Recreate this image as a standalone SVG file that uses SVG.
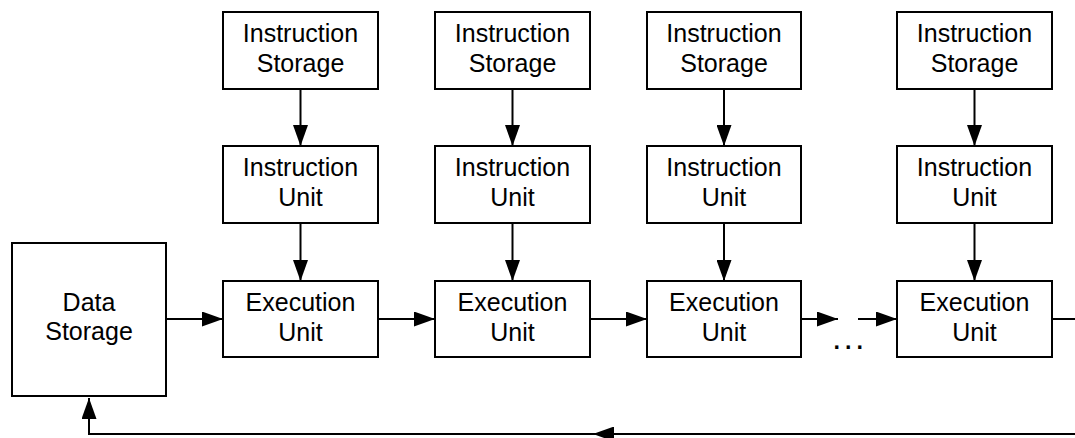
<svg xmlns="http://www.w3.org/2000/svg" width="1075" height="438" viewBox="0 0 1075 438">
  <style>
    .box { fill: #ffffff; stroke: #000000; stroke-width: 2; }
    .wire { fill: none; stroke: #000000; stroke-width: 2; }
    .lbl { font-family: "Liberation Sans", Arial, Helvetica, sans-serif; font-size: 25px; fill: #000000; text-anchor: middle; }
  </style>
  <defs>
    <marker id="arrow" markerUnits="userSpaceOnUse" markerWidth="21" markerHeight="15" refX="21" refY="7.5" orient="auto">
      <path d="M0,0 L21,7.5 L0,15 Z" fill="#000000"/>
    </marker>
  </defs>
  <rect width="1075" height="438" fill="#ffffff"/>

  <!-- connectors -->
  <g id="connectors">
    <!-- instruction storage to instruction unit -->
    <line class="wire" x1="300.5" y1="89" x2="300.5" y2="146" marker-end="url(#arrow)"/>
    <line class="wire" x1="512.5" y1="89" x2="512.5" y2="146" marker-end="url(#arrow)"/>
    <line class="wire" x1="724" y1="89" x2="724" y2="146" marker-end="url(#arrow)"/>
    <line class="wire" x1="974.5" y1="89" x2="974.5" y2="146" marker-end="url(#arrow)"/>
    <!-- instruction unit to execution unit -->
    <line class="wire" x1="300.5" y1="223" x2="300.5" y2="281" marker-end="url(#arrow)"/>
    <line class="wire" x1="512.5" y1="223" x2="512.5" y2="281" marker-end="url(#arrow)"/>
    <line class="wire" x1="724" y1="223" x2="724" y2="281" marker-end="url(#arrow)"/>
    <line class="wire" x1="974.5" y1="223" x2="974.5" y2="281" marker-end="url(#arrow)"/>
    <!-- data path along the execution units -->
    <line class="wire" x1="166" y1="319" x2="223" y2="319" marker-end="url(#arrow)"/>
    <line class="wire" x1="378" y1="319" x2="435" y2="319" marker-end="url(#arrow)"/>
    <line class="wire" x1="590" y1="319" x2="647" y2="319" marker-end="url(#arrow)"/>
    <line class="wire" x1="801" y1="319" x2="838" y2="319" marker-end="url(#arrow)"/>
    <line class="wire" x1="858" y1="319" x2="897" y2="319" marker-end="url(#arrow)"/>
    <!-- feedback to data storage -->
    <path class="wire" d="M1052,319 H1090 V434 H593" marker-end="url(#arrow)"/>
    <path class="wire" d="M594,434 H89 V398" marker-end="url(#arrow)"/>
  </g>

  <g id="data-storage">
    <rect class="box" x="12" y="243" width="154" height="153"/>
    <text class="lbl" x="89" y="311">Data</text>
    <text class="lbl" x="89" y="340">Storage</text>
  </g>

  <g id="instr-storage-1">
    <rect class="box" x="223" y="12" width="155" height="77"/>
    <text class="lbl" x="300.5" y="42">Instruction</text>
    <text class="lbl" x="300.5" y="72">Storage</text>
  </g>
  <g id="instr-unit-1">
    <rect class="box" x="223" y="146" width="155" height="77"/>
    <text class="lbl" x="300.5" y="176">Instruction</text>
    <text class="lbl" x="300.5" y="206">Unit</text>
  </g>
  <g id="exec-unit-1">
    <rect class="box" x="223" y="281" width="155" height="76"/>
    <text class="lbl" x="300.5" y="311">Execution</text>
    <text class="lbl" x="300.5" y="341">Unit</text>
  </g>

  <g id="instr-storage-2">
    <rect class="box" x="435" y="12" width="155" height="77"/>
    <text class="lbl" x="512.5" y="42">Instruction</text>
    <text class="lbl" x="512.5" y="72">Storage</text>
  </g>
  <g id="instr-unit-2">
    <rect class="box" x="435" y="146" width="155" height="77"/>
    <text class="lbl" x="512.5" y="176">Instruction</text>
    <text class="lbl" x="512.5" y="206">Unit</text>
  </g>
  <g id="exec-unit-2">
    <rect class="box" x="435" y="281" width="155" height="76"/>
    <text class="lbl" x="512.5" y="311">Execution</text>
    <text class="lbl" x="512.5" y="341">Unit</text>
  </g>

  <g id="instr-storage-3">
    <rect class="box" x="647" y="12" width="154" height="77"/>
    <text class="lbl" x="724" y="42">Instruction</text>
    <text class="lbl" x="724" y="72">Storage</text>
  </g>
  <g id="instr-unit-3">
    <rect class="box" x="647" y="146" width="154" height="77"/>
    <text class="lbl" x="724" y="176">Instruction</text>
    <text class="lbl" x="724" y="206">Unit</text>
  </g>
  <g id="exec-unit-3">
    <rect class="box" x="647" y="281" width="154" height="76"/>
    <text class="lbl" x="724" y="311">Execution</text>
    <text class="lbl" x="724" y="341">Unit</text>
  </g>

  <text id="ellipsis" x="832" y="349" style="font-family: 'Liberation Sans', Arial, sans-serif; font-size: 34px; letter-spacing: 2px;">...</text>

  <g id="instr-storage-4">
    <rect class="box" x="897" y="12" width="155" height="77"/>
    <text class="lbl" x="974.5" y="42">Instruction</text>
    <text class="lbl" x="974.5" y="72">Storage</text>
  </g>
  <g id="instr-unit-4">
    <rect class="box" x="897" y="146" width="155" height="77"/>
    <text class="lbl" x="974.5" y="176">Instruction</text>
    <text class="lbl" x="974.5" y="206">Unit</text>
  </g>
  <g id="exec-unit-4">
    <rect class="box" x="897" y="281" width="155" height="76"/>
    <text class="lbl" x="974.5" y="311">Execution</text>
    <text class="lbl" x="974.5" y="341">Unit</text>
  </g>
</svg>
